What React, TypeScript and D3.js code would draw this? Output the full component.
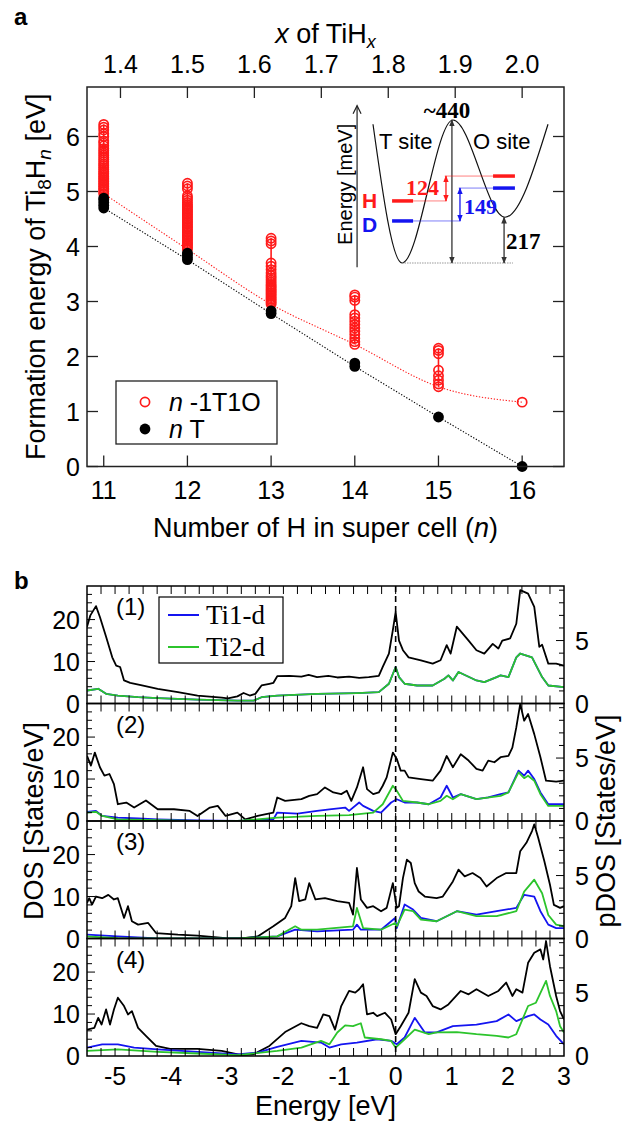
import React from 'react';
import * as d3 from 'd3';

const SANS = '"Liberation Sans", Arial, Helvetica, sans-serif';
const SERIF = '"Liberation Serif", "Times New Roman", serif';

// ---------------- Panel a data ----------------
const nTicks = [11, 12, 13, 14, 15, 16];
const xTopTicks = [1.4, 1.5, 1.6, 1.7, 1.8, 1.9, 2.0];
const energyTicksA = [0, 1, 2, 3, 4, 5, 6];

// n-1T1O configurations (open red circles), formation energy [eV]
const t1o_n11 = [4.96, 5.0, 5.03, 5.06, 5.09, 5.12, 5.15, 5.18, 5.21, 5.24, 5.27, 5.3, 5.33, 5.36, 5.4, 5.43, 5.47, 5.5, 5.54, 5.58, 5.62, 5.66, 5.7, 5.74, 5.78, 5.83, 5.88, 5.92, 6.0, 6.05, 6.12, 6.17, 6.22];
const t1o_n12 = [3.95, 3.98, 4.01, 4.04, 4.07, 4.1, 4.13, 4.16, 4.19, 4.22, 4.25, 4.28, 4.31, 4.34, 4.37, 4.4, 4.43, 4.46, 4.49, 4.52, 4.55, 4.58, 4.61, 4.64, 4.67, 4.7, 4.73, 4.76, 4.8, 4.84, 4.88, 4.92, 5.05, 5.1, 5.15];
const t1o_n13 = [2.95, 2.98, 3.01, 3.04, 3.07, 3.1, 3.13, 3.16, 3.19, 3.22, 3.25, 3.28, 3.31, 3.35, 3.39, 3.43, 3.47, 3.52, 3.58, 3.64, 3.7, 4.05, 4.1, 4.15];
const t1o_n14 = [2.22, 2.27, 2.33, 2.4, 2.46, 2.52, 2.58, 2.64, 2.7, 2.76, 3.02, 3.08, 3.12];
const t1o_n15 = [1.45, 1.5, 1.57, 1.65, 1.75, 2.05, 2.11, 2.15];
const t1o_n16 = [1.17];
const t1oByN = [t1o_n11, t1o_n12, t1o_n13, t1o_n14, t1o_n15, t1o_n16];

// nT configurations (filled black circles)
const nT_n11 = [4.7, 4.75, 4.8, 4.85, 4.88];
const nT_n12 = [3.76, 3.8, 3.85, 3.88];
const nT_n13 = [2.78, 2.83];
const nT_n14 = [1.82, 1.88];
const nT_n15 = [0.9];
const nT_n16 = [0.0];
const nTByN = [nT_n11, nT_n12, nT_n13, nT_n14, nT_n15, nT_n16];

const minNT = [4.7, 3.76, 2.78, 1.82, 0.9, 0.0];
const min1T1O = [4.96, 3.95, 2.95, 2.22, 1.45, 1.17];

// ---------------- Inset (schematic) ----------------
// reaction coordinate 0..1, schematic energy 0..100 (barrier top = 100)
const potentialCurve: [number, number][] = [[0, 97], [0.166, 0], [0.457, 100], [0.754, 32], [1, 97]];
const levelH_T = 43.4, levelD_T = 29.4, levelH_O = 60.8, levelD_O = 52.4, oSiteMin = 32;

// ---------------- Panel b data ----------------
const energyTicksB = [-5, -4, -3, -2, -1, 0, 1, 2, 3];

// Panel (1)
const dos1: [number, number][] = [[-5.5, 18.3], [-5.44, 21], [-5.34, 23.2], [-5.27, 20.6], [-5.16, 15.9], [-5.05, 11], [-4.98, 9], [-4.91, 8.7], [-4.84, 5.5], [-4.73, 4.9], [-4.52, 4.3], [-4.24, 3.5], [-3.88, 2.7], [-3.53, 1.9], [-3.1, 1.4], [-2.99, 1.2], [-2.82, 1.7], [-2.71, 2.5], [-2.6, 1.9], [-2.5, 2.3], [-2.39, 4.3], [-2.25, 4.7], [-2.18, 4.9], [-2.11, 6.5], [-1.89, 6.6], [-1.68, 6.4], [-1.55, 6.8], [-1.4, 6.3], [-1.2, 6.6], [-1.04, 6.2], [-0.83, 6.4], [-0.65, 6.1], [-0.48, 6.3], [-0.3, 6.6], [-0.23, 8.7], [-0.12, 11.9], [-0.05, 17.5], [0.0, 21.8], [0.06, 15], [0.13, 12.7], [0.23, 11], [0.45, 10.3], [0.66, 9.5], [0.8, 10.3], [0.91, 13.9], [0.98, 11.9], [1.09, 18.3], [1.3, 15], [1.44, 12.7], [1.58, 11.9], [1.73, 14.2], [1.83, 13.1], [1.9, 15], [2.04, 15.5], [2.15, 19], [2.22, 27], [2.36, 26.2], [2.47, 23], [2.56, 13.5], [2.61, 14], [2.72, 9.5], [2.86, 9.5], [3.0, 9]];
const ti2_1: [number, number][] = [[-5.5, 1.03], [-5.3, 1.17], [-5.16, 0.77], [-4.95, 0.63], [-4.59, 0.5], [-4.24, 0.43], [-3.53, 0.3], [-2.82, 0.23], [-2.53, 0.23], [-2.39, 0.5], [-2.11, 0.63], [-1.4, 0.77], [-0.69, 0.83], [-0.3, 0.9], [-0.12, 1.57], [0.0, 2.9], [0.06, 2.1], [0.16, 1.57], [0.38, 1.43], [0.66, 1.43], [0.87, 1.97], [0.94, 2.23], [1.02, 1.83], [1.12, 2.5], [1.44, 1.83], [1.58, 1.7], [1.8, 2.1], [1.87, 2.23], [2.01, 2.1], [2.15, 3.67], [2.22, 3.97], [2.43, 3.67], [2.61, 2.1], [2.72, 1.43], [3.0, 1.3]];
const ti1_1: [number, number][] = [[-5.5, 1.03], [-5.3, 1.17], [-5.16, 0.77], [-4.95, 0.63], [-4.59, 0.5], [-4.24, 0.43], [-3.53, 0.3], [-2.82, 0.23], [-2.53, 0.23], [-2.39, 0.5], [-2.11, 0.63], [-1.4, 0.77], [-0.69, 0.83], [-0.3, 0.9], [-0.12, 1.57], [0.0, 2.9], [0.06, 2.1], [0.16, 1.57], [0.38, 1.43], [0.66, 1.43], [0.87, 1.97], [0.94, 2.23], [1.02, 1.83], [1.12, 2.5], [1.44, 1.83], [1.58, 1.7], [1.8, 2.1], [1.87, 2.23], [2.01, 2.1], [2.15, 3.67], [2.22, 3.97], [2.43, 3.67], [2.61, 2.1], [2.72, 1.43], [3.0, 1.3]];

// Panel (2)
const dos2: [number, number][] = [[-5.5, 15.5], [-5.43, 13.2], [-5.36, 16.3], [-5.27, 12.8], [-5.19, 10.8], [-5.1, 11.2], [-5.02, 8.8], [-4.95, 4], [-4.8, 4.4], [-4.66, 3.2], [-4.45, 4.9], [-4.24, 2.8], [-3.95, 2.8], [-3.67, 2.4], [-3.53, 1.2], [-3.31, 3.2], [-3.17, 3.6], [-3.03, 1.2], [-2.82, 2.0], [-2.68, 0.4], [-2.46, 1.2], [-2.18, 2.0], [-2.11, 5.6], [-1.97, 4.8], [-1.68, 5.2], [-1.54, 6.0], [-1.4, 6.4], [-1.26, 8.0], [-1.11, 6.8], [-0.97, 6.4], [-0.87, 7.2], [-0.79, 4.8], [-0.69, 8.0], [-0.58, 12.8], [-0.51, 7.6], [-0.4, 6.4], [-0.3, 6.8], [-0.23, 8.4], [-0.16, 10.4], [-0.05, 16.3], [0.02, 14.8], [0.09, 12.0], [0.16, 12.0], [0.23, 10.4], [0.45, 10.0], [0.66, 9.6], [0.8, 12.0], [0.91, 15.5], [1.02, 12.8], [1.16, 15.9], [1.3, 14.4], [1.44, 12.4], [1.55, 12.0], [1.65, 14.4], [1.76, 14.0], [1.87, 15.2], [2.01, 15.5], [2.08, 17.5], [2.15, 22.3], [2.22, 27.9], [2.29, 23.9], [2.36, 25.5], [2.47, 20.7], [2.58, 15.2], [2.68, 9.6], [2.86, 9.4], [3.0, 9.6]];
const ti1_2: [number, number][] = [[-5.5, 0.73], [-5.34, 0.8], [-5.23, 0.4], [-4.95, 0.27], [-4.59, 0.2], [-4.24, 0.13], [-3.53, 0.05], [-2.82, 0.0], [-2.18, 0.13], [-2.11, 0.67], [-1.75, 0.58], [-1.4, 0.8], [-1.18, 0.93], [-0.9, 1.07], [-0.83, 0.8], [-0.65, 1.47], [-0.58, 1.2], [-0.4, 0.8], [-0.26, 0.67], [-0.08, 1.47], [0.02, 1.73], [0.16, 1.47], [0.38, 1.47], [0.59, 1.33], [0.8, 1.87], [0.91, 2.8], [1.02, 1.87], [1.16, 2.13], [1.44, 1.73], [1.65, 1.87], [1.87, 2.13], [2.01, 2.27], [2.19, 4.0], [2.29, 3.6], [2.36, 4.0], [2.47, 3.33], [2.58, 2.27], [2.72, 1.33], [3.0, 1.33]];
const ti2_2: [number, number][] = [[-5.5, 0.67], [-5.34, 0.73], [-5.23, 0.4], [-4.95, 0.13], [-4.24, 0.07], [-3.53, 0.0], [-2.82, 0.0], [-2.11, 0.27], [-1.4, 0.4], [-0.83, 0.47], [-0.4, 0.67], [-0.23, 1.33], [-0.05, 2.8], [0.02, 2.4], [0.13, 1.6], [0.38, 1.47], [0.59, 1.33], [0.8, 1.6], [0.91, 2.0], [1.02, 1.73], [1.16, 2.13], [1.44, 1.73], [1.87, 2.0], [2.01, 2.27], [2.19, 3.87], [2.29, 3.4], [2.36, 3.6], [2.47, 3.2], [2.58, 2.13], [2.72, 1.2], [3.0, 1.2]];

// Panel (3)
const dos3: [number, number][] = [[-5.5, 8.5], [-5.46, 9.6], [-5.41, 8.1], [-5.34, 10.0], [-5.23, 9.6], [-5.12, 10.4], [-5.02, 9.3], [-4.95, 9.6], [-4.84, 4.9], [-4.77, 7.7], [-4.7, 4.1], [-4.59, 3.3], [-4.41, 3.7], [-4.27, 1.3], [-3.88, 0.9], [-3.53, 0.7], [-3.03, 0.1], [-2.75, 0.0], [-2.46, 0.5], [-2.18, 2.9], [-1.97, 4.9], [-1.86, 7.7], [-1.79, 14.4], [-1.72, 8.9], [-1.61, 9.3], [-1.54, 13.2], [-1.43, 9.3], [-1.26, 9.6], [-1.04, 8.9], [-0.83, 8.5], [-0.76, 5.7], [-0.69, 16.8], [-0.62, 9.3], [-0.51, 7.3], [-0.4, 7.7], [-0.26, 6.5], [-0.16, 7.3], [-0.05, 13.2], [0.02, 7.3], [0.06, 7.7], [0.13, 14.4], [0.2, 18.8], [0.27, 18.0], [0.34, 13.2], [0.41, 11.2], [0.52, 10.0], [0.73, 9.6], [0.84, 10.0], [1.02, 13.6], [1.12, 16.4], [1.23, 14.8], [1.37, 15.6], [1.51, 14.4], [1.62, 12.4], [1.8, 14.4], [1.97, 15.6], [2.15, 15.6], [2.22, 20.8], [2.33, 22.8], [2.43, 25.6], [2.47, 27.2], [2.54, 24.0], [2.65, 18.4], [2.75, 12.8], [2.82, 8.0], [2.93, 7.3], [3.0, 7.7]];
const ti1_3: [number, number][] = [[-5.5, 0.3], [-4.95, 0.17], [-4.24, 0.0], [-3.53, 0.0], [-2.82, 0.0], [-2.11, 0.17], [-1.79, 0.7], [-1.4, 0.57], [-0.76, 0.7], [-0.69, 1.1], [-0.62, 0.7], [-0.26, 0.7], [-0.01, 1.63], [0.02, 0.83], [0.16, 2.7], [0.31, 2.3], [0.45, 1.63], [0.73, 1.37], [1.09, 2.17], [1.44, 1.9], [1.8, 2.17], [2.15, 2.43], [2.29, 3.47], [2.47, 3.33], [2.58, 2.17], [2.72, 1.1], [2.86, 0.83], [3.0, 0.83]];
const ti2_3: [number, number][] = [[-5.5, 0.17], [-4.95, 0.03], [-4.24, 0.0], [-2.82, 0.0], [-2.11, 0.17], [-1.79, 0.97], [-1.68, 0.7], [-1.4, 0.7], [-0.76, 0.97], [-0.69, 2.43], [-0.58, 0.83], [-0.26, 0.7], [-0.01, 1.23], [0.02, 0.97], [0.16, 2.3], [0.31, 2.17], [0.45, 1.5], [0.73, 1.37], [1.09, 2.17], [1.44, 1.77], [1.8, 1.77], [2.15, 2.17], [2.29, 3.73], [2.47, 4.67], [2.61, 3.6], [2.72, 1.87], [2.86, 1.1], [3.0, 0.97]];

// Panel (4)
const dos4: [number, number][] = [[-5.5, 6.3], [-5.37, 6.7], [-5.3, 9.1], [-5.24, 7.5], [-5.16, 11.1], [-5.09, 7.5], [-5.02, 11.1], [-4.95, 13.9], [-4.84, 11.9], [-4.77, 9.9], [-4.7, 10.7], [-4.59, 6.7], [-4.45, 4.8], [-4.27, 2.4], [-4.02, 1.7], [-3.53, 1.7], [-3.1, 1.2], [-2.75, 0.2], [-2.53, 0.4], [-2.25, 2.4], [-1.97, 5.7], [-1.68, 7.8], [-1.54, 7.1], [-1.4, 6.7], [-1.29, 9.9], [-1.18, 9.5], [-1.08, 6.3], [-0.97, 11.9], [-0.83, 15.5], [-0.72, 15.1], [-0.65, 15.9], [-0.58, 17.1], [-0.51, 9.9], [-0.4, 10.3], [-0.33, 9.5], [-0.19, 10.3], [-0.08, 8.7], [0.0, 5.2], [0.09, 7.1], [0.23, 10.3], [0.34, 18.3], [0.45, 15.1], [0.55, 14.3], [0.66, 11.9], [0.8, 11.1], [0.94, 12.3], [1.16, 15.5], [1.3, 14.7], [1.44, 15.9], [1.65, 14.3], [1.83, 15.5], [1.97, 17.5], [2.08, 14.3], [2.15, 15.9], [2.26, 15.1], [2.36, 22.2], [2.47, 24.6], [2.58, 25.4], [2.63, 23.0], [2.68, 27.4], [2.75, 21.4], [2.86, 14.3], [2.93, 10.7], [3.0, 8.7]];
const ti1_4: [number, number][] = [[-5.5, 0.67], [-5.23, 0.93], [-4.95, 0.93], [-4.66, 0.67], [-4.24, 0.53], [-3.53, 0.33], [-2.82, 0.13], [-2.46, 0.27], [-2.11, 0.73], [-1.68, 1.2], [-1.33, 1.07], [-1.18, 0.67], [-0.97, 0.93], [-0.69, 1.07], [-0.33, 1.33], [-0.08, 1.2], [0.02, 0.93], [0.16, 1.47], [0.34, 3.03], [0.52, 1.87], [0.73, 1.87], [1.02, 2.37], [1.44, 2.5], [1.8, 2.77], [2.01, 3.3], [2.15, 2.77], [2.36, 3.17], [2.47, 3.3], [2.58, 2.9], [2.72, 2.5], [2.86, 1.6], [3.0, 0.93]];
const ti2_4: [number, number][] = [[-5.5, 0.4], [-4.95, 0.53], [-4.24, 0.33], [-3.53, 0.2], [-2.82, 0.07], [-2.11, 0.4], [-1.68, 0.67], [-1.33, 1.2], [-1.18, 0.93], [-1.04, 1.87], [-0.9, 2.43], [-0.76, 2.37], [-0.62, 2.6], [-0.55, 1.47], [-0.26, 1.33], [-0.08, 1.2], [0.0, 0.67], [0.16, 1.33], [0.34, 2.1], [0.59, 1.73], [0.73, 1.87], [1.09, 1.9], [1.44, 1.73], [1.8, 1.6], [2.01, 1.47], [2.15, 1.73], [2.36, 3.97], [2.5, 4.23], [2.68, 5.97], [2.75, 4.77], [2.86, 3.57], [2.93, 2.37], [3.0, 1.87]];

const panelLabels = ['(1)', '(2)', '(3)', '(4)'];
const dosPanels = [dos1, dos2, dos3, dos4];
const ti1Panels = [ti1_1, ti1_2, ti1_3, ti1_4];
const ti2Panels = [ti2_1, ti2_2, ti2_3, ti2_4];
const dosTicks = [0, 10, 20];
const pdosTicks = [0, 5];

// ---------------- Layout ----------------
const FL = 87, FR = 564;
const A_TOP = 87, A_BOT = 466.5;
const B_TOP = 586, B_H = 117.5;

const RED = '#ff1a1a';
const BLUE = '#1414f0';
const GREEN = '#2cc42c';

export default function App() {
  const xA = d3.scaleLinear().domain([10.8, 16.5]).range([FL, FR]);
  const yA = d3.scaleLinear().domain([0, 6.9]).range([A_BOT, A_TOP]);

  const xB = d3.scaleLinear().domain([-5.5, 3]).range([FL, FR]);

  const insetX = d3.scaleLinear().domain([0, 1]).range([373, 548]);
  const insetY = d3.scaleLinear().domain([0, 100]).range([263, 120]);

  const blackLine = d3.line<number>().x((_, i) => xA(nTicks[i])).y((d) => yA(d));
  const redLine = d3.line<number>().x((_, i) => xA(nTicks[i])).y((d) => yA(d)).curve(d3.curveMonotoneX);
  const potLine = d3.line<[number, number]>().x((d) => insetX(d[0])).y((d) => insetY(d[1])).curve(d3.curveMonotoneX);

  const minorX: number[] = d3.range(-5.25, 3, 0.25);

  const fontTick = 25;
  const fontLabel = 27;

  const arrowV = (x: number, y1: number, y2: number, color: string, id: string) => (
    <line x1={x} x2={x} y1={y1} y2={y2} stroke={color} strokeWidth={1.3} markerStart={`url(#${id})`} markerEnd={`url(#${id})`} />
  );

  return (
    <svg width={622} height={1123} style={{ position: 'absolute', left: 0, top: 0, background: '#fff' }} fontFamily={SANS}>
      <defs>
        {[['arrGray', '#333'], ['arrRed', RED], ['arrBlue', BLUE]].map(([id, c]) => (
          <marker key={id} id={id} viewBox="0 0 10 10" refX="9" refY="5" markerWidth="7" markerHeight="7" orient="auto-start-reverse" markerUnits="userSpaceOnUse">
            <path d="M0,1 L10,5 L0,9 z" fill={c} />
          </marker>
        ))}
        {dosPanels.map((_, i) => (
          <clipPath id={`clipB${i}`} key={i}>
            <rect x={FL} y={B_TOP + i * B_H} width={FR - FL} height={B_H} />
          </clipPath>
        ))}
      </defs>

      {/* ============ Panel a ============ */}
      <text x={14} y={25} fontSize={24} fontWeight="bold">a</text>
      <text x={(FL + FR) / 2} y={43} fontSize={fontLabel} textAnchor="middle">
        <tspan fontStyle="italic">x</tspan> of TiH<tspan fontStyle="italic" fontSize={18} dy={5}>x</tspan>
      </text>
      {xTopTicks.map((v) => (
        <g key={v}>
          <line x1={xA(8 * v)} x2={xA(8 * v)} y1={A_TOP} y2={A_TOP + 11} stroke="#222" strokeWidth={1.3} />
          <text x={xA(8 * v)} y={73} fontSize={fontTick} textAnchor="middle">{v.toFixed(1)}</text>
        </g>
      ))}
      {nTicks.map((v) => (
        <g key={v}>
          <line x1={xA(v)} x2={xA(v)} y1={A_BOT} y2={A_BOT - 11} stroke="#222" strokeWidth={1.3} />
          <text x={xA(v)} y={499} fontSize={fontTick} textAnchor="middle">{v}</text>
        </g>
      ))}
      {energyTicksA.map((v) => (
        <g key={v}>
          <line x1={FL} x2={FL + 11} y1={yA(v)} y2={yA(v)} stroke="#222" strokeWidth={1.3} />
          <line x1={FR} x2={FR - 11} y1={yA(v)} y2={yA(v)} stroke="#222" strokeWidth={1.3} />
          <text x={80} y={yA(v) + 9} fontSize={fontTick} textAnchor="end">{v}</text>
        </g>
      ))}
      <text x={(FL + FR) / 2} y={537} fontSize={fontLabel} textAnchor="middle">
        Number of H in super cell (<tspan fontStyle="italic">n</tspan>)
      </text>
      <text transform={`translate(45,${(A_TOP + A_BOT) / 2}) rotate(-90)`} fontSize={fontLabel} textAnchor="middle">
        Formation energy of Ti<tspan fontSize={19} dy={6}>8</tspan><tspan dy={-6}>H</tspan><tspan fontSize={19} dy={6} fontStyle="italic">n</tspan><tspan dy={-6}> [eV]</tspan>
      </text>

      {/* dotted guide lines */}
      <path d={blackLine(minNT) || ''} fill="none" stroke="#000" strokeWidth={1.1} strokeDasharray="1.3 1.7" />
      <path d={redLine(min1T1O) || ''} fill="none" stroke={RED} strokeWidth={1.1} strokeDasharray="1.3 1.7" />

      {/* red columns */}
      {t1oByN.map((vals, i) => (
        <g key={`r${i}`}>
          {vals.length > 1 && (
            <line x1={xA(nTicks[i])} x2={xA(nTicks[i])} y1={yA(d3.min(vals)!)} y2={yA(d3.max(vals)!)} stroke={RED} strokeWidth={1.6} />
          )}
          {vals.map((v, j) => (
            <circle key={j} cx={xA(nTicks[i])} cy={yA(v)} r={4.6} fill="none" stroke={RED} strokeWidth={1.7} />
          ))}
        </g>
      ))}
      {nTByN.map((vals, i) => (
        <g key={`b${i}`}>
          {vals.map((v, j) => (
            <circle key={j} cx={xA(nTicks[i])} cy={yA(v)} r={5.4} fill="#000" />
          ))}
        </g>
      ))}

      {/* legend a */}
      <rect x={116} y={381} width={161} height={63} fill="#fff" stroke="#222" strokeWidth={1.3} />
      <circle cx={145} cy={402} r={4.6} fill="none" stroke={RED} strokeWidth={1.7} />
      <circle cx={145} cy={429} r={5.4} fill="#000" />
      <text x={169} y={411} fontSize={25}><tspan fontStyle="italic">n</tspan> -1T1O</text>
      <text x={169} y={438} fontSize={25}><tspan fontStyle="italic">n</tspan> T</text>

      {/* inset */}
      <g>
        <line x1={insetX(-0.091)} x2={insetX(-0.091)} y1={insetY(-3)} y2={insetY(110)} stroke="#222" strokeWidth={1.2} />
        <path d={`M${insetX(-0.091) - 4},${insetY(110) + 8} L${insetX(-0.091)},${insetY(110)} L${insetX(-0.091) + 4},${insetY(110) + 8}`} fill="none" stroke="#222" strokeWidth={1.2} />
        <text transform={`translate(352,${insetY(55)}) rotate(-90)`} fontSize={20} textAnchor="middle">Energy [meV]</text>
        <path d={potLine(potentialCurve) || ''} fill="none" stroke="#111" strokeWidth={1.2} />
        <line x1={insetX(0.166)} x2={insetX(0.8)} y1={insetY(0)} y2={insetY(0)} stroke="#999" strokeWidth={1} strokeDasharray="1.5 1" />
        {arrowV(insetX(0.451), insetY(0), insetY(100), '#333', 'arrGray')}
        {arrowV(insetX(0.749), insetY(0), insetY(oSiteMin), '#333', 'arrGray')}
        {/* H levels */}
        <line x1={insetX(0.109)} x2={insetX(0.229)} y1={insetY(levelH_T)} y2={insetY(levelH_T)} stroke={RED} strokeWidth={3.5} />
        <line x1={insetX(0.686)} x2={insetX(0.811)} y1={insetY(levelH_O)} y2={insetY(levelH_O)} stroke={RED} strokeWidth={3.5} />
        <line x1={insetX(0.229)} x2={insetX(0.42)} y1={insetY(levelH_T)} y2={insetY(levelH_T)} stroke={RED} strokeOpacity={0.55} strokeWidth={1} />
        <line x1={insetX(0.41)} x2={insetX(0.686)} y1={insetY(levelH_O)} y2={insetY(levelH_O)} stroke={RED} strokeOpacity={0.55} strokeWidth={1} />
        {arrowV(insetX(0.417), insetY(levelH_T), insetY(levelH_O), RED, 'arrRed')}
        {/* D levels */}
        <line x1={insetX(0.109)} x2={insetX(0.229)} y1={insetY(levelD_T)} y2={insetY(levelD_T)} stroke={BLUE} strokeWidth={3.5} />
        <line x1={insetX(0.686)} x2={insetX(0.811)} y1={insetY(levelD_O)} y2={insetY(levelD_O)} stroke={BLUE} strokeWidth={3.5} />
        <line x1={insetX(0.229)} x2={insetX(0.5)} y1={insetY(levelD_T)} y2={insetY(levelD_T)} stroke={BLUE} strokeOpacity={0.55} strokeWidth={1} />
        <line x1={insetX(0.49)} x2={insetX(0.686)} y1={insetY(levelD_O)} y2={insetY(levelD_O)} stroke={BLUE} strokeOpacity={0.55} strokeWidth={1} />
        {arrowV(insetX(0.497), insetY(levelD_T), insetY(levelD_O), BLUE, 'arrBlue')}
        <text x={insetX(0.423)} y={118} fontSize={23} fontFamily={SERIF} fontWeight="bold" textAnchor="middle">~440</text>
        <text x={379} y={149} fontSize={22}>T site</text>
        <text x={473} y={149} fontSize={22}>O site</text>
        <text x={406} y={195} fontSize={22} fontFamily={SERIF} fontWeight="bold" fill={RED}>124</text>
        <text x={464} y={214} fontSize={22} fontFamily={SERIF} fontWeight="bold" fill={BLUE}>149</text>
        <text x={506} y={249} fontSize={23} fontFamily={SERIF} fontWeight="bold">217</text>
        <text x={362} y={208} fontSize={21} fontWeight="bold" fill={RED}>H</text>
        <text x={362} y={232} fontSize={21} fontWeight="bold" fill={BLUE}>D</text>
      </g>

      <rect x={FL} y={A_TOP} width={FR - FL} height={A_BOT - A_TOP} fill="none" stroke="#222" strokeWidth={1.5} />

      {/* ============ Panel b ============ */}
      <text x={14} y={589} fontSize={24} fontWeight="bold">b</text>
      {dosPanels.map((dos, i) => {
        const top = B_TOP + i * B_H;
        const bot = top + B_H;
        const yD = d3.scaleLinear().domain([0, 28]).range([bot, top]);
        const yP = d3.scaleLinear().domain([0, 28 / 3]).range([bot, top]);
        const lineD = d3.line<[number, number]>().x((d) => xB(d[0])).y((d) => yD(d[1]));
        const lineP = d3.line<[number, number]>().x((d) => xB(d[0])).y((d) => yP(d[1]));
        return (
          <g key={i}>
            <g clipPath={`url(#clipB${i})`}>
              <path d={lineD(dos) || ''} fill="none" stroke="#000" strokeWidth={1.8} strokeLinejoin="round" />
              <path d={lineP(ti1Panels[i]) || ''} fill="none" stroke={BLUE} strokeWidth={1.8} strokeLinejoin="round" />
              <path d={lineP(ti2Panels[i]) || ''} fill="none" stroke={GREEN} strokeWidth={1.8} strokeLinejoin="round" />
            </g>
            {minorX.map((e) => (
              <g key={e}>
                <line x1={xB(e)} x2={xB(e)} y1={top} y2={top + 8} stroke="#000" strokeWidth={1} />
                <line x1={xB(e)} x2={xB(e)} y1={bot} y2={bot - 8} stroke="#000" strokeWidth={1} />
              </g>
            ))}
            {d3.range(2, 28, 2).map((v) => (
              <line key={v} x1={FL} x2={FL + (v % 10 === 0 ? 8 : 5)} y1={yD(v)} y2={yD(v)} stroke="#000" strokeWidth={1} />
            ))}
            {d3.range(1, 10, 1).map((v) => (
              <line key={v} x1={FR} x2={FR - (v % 5 === 0 ? 8 : 5)} y1={yP(v)} y2={yP(v)} stroke="#000" strokeWidth={1} />
            ))}
            {dosTicks.map((v) => (
              <text key={v} x={80} y={yD(v) + 9} fontSize={fontTick} textAnchor="end">{v}</text>
            ))}
            {pdosTicks.map((v) => (
              <text key={v} x={575} y={yP(v) + 9} fontSize={fontTick}>{v}</text>
            ))}
            <text x={116} y={top + 29} fontSize={24}>{panelLabels[i]}</text>
            <rect x={FL} y={top} width={FR - FL} height={B_H} fill="none" stroke="#000" strokeWidth={1.5} />
          </g>
        );
      })}
      <line x1={xB(0)} x2={xB(0)} y1={B_TOP} y2={B_TOP + 4 * B_H} stroke="#000" strokeWidth={1.6} strokeDasharray="6 4" />

      {/* legend b */}
      <rect x={159} y={597} width={124} height={66} fill="#fff" stroke="#000" strokeWidth={1.2} />
      <line x1={168} x2={199} y1={615} y2={615} stroke={BLUE} strokeWidth={2} />
      <line x1={168} x2={199} y1={647} y2={647} stroke={GREEN} strokeWidth={2} />
      <text x={206} y={624} fontSize={27} fontFamily={SERIF}>Ti1-d</text>
      <text x={206} y={656} fontSize={27} fontFamily={SERIF}>Ti2-d</text>

      {energyTicksB.map((v) => (
        <text key={v} x={xB(v)} y={1085} fontSize={fontTick} textAnchor="middle">{v}</text>
      ))}
      <text x={(FL + FR) / 2} y={1115} fontSize={fontLabel} textAnchor="middle">Energy [eV]</text>
      <text transform={`translate(43,${B_TOP + 2 * B_H}) rotate(-90)`} fontSize={fontLabel} textAnchor="middle">DOS [States/eV]</text>
      <text transform={`translate(615,${B_TOP + 2 * B_H}) rotate(-90)`} fontSize={fontLabel} textAnchor="middle">pDOS [States/eV]</text>
    </svg>
  );
}
